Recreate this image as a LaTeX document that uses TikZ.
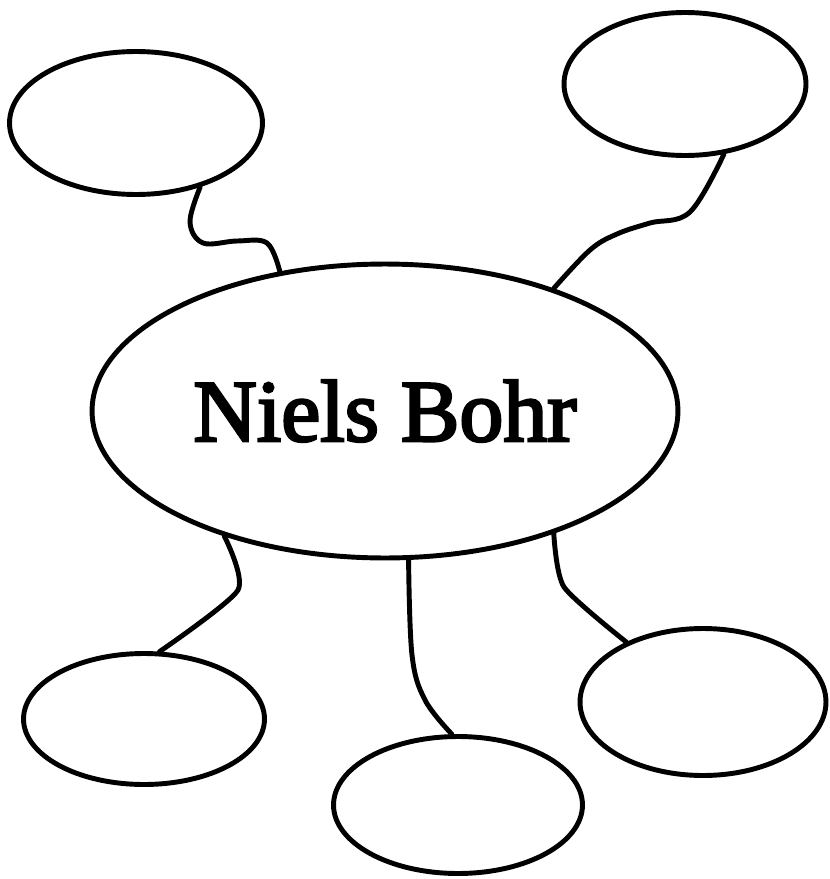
\documentclass[tikz,border=0pt]{standalone}
\usepackage{fontspec}
\setmainfont{Liberation Serif}
\newfontfamily\namefont[FakeBold=3]{Liberation Serif}
\usetikzlibrary{shapes.geometric}

\tikzset{
    bubble/.style={draw, ellipse, line width=2.8pt, inner sep=0pt},
    link/.style={line width=2.8pt, line cap=round}
}

\begin{document}
\begin{tikzpicture}[x=0.02cm, y=-0.02cm]
    \useasboundingbox (0,0) rectangle (830,879);

    % Centre
    \node[bubble, minimum width=11.72cm, minimum height=5.88cm] (bohr) at (385,411)
        {\namefont\fontsize{50}{52}\selectfont Niels Bohr};

    % Outer bubbles
    \node[bubble, minimum width=5.06cm, minimum height=2.86cm] (topleft) at (136,123) {};
    \node[bubble, minimum width=4.84cm, minimum height=2.86cm] (topright) at (685,84) {};
    \node[bubble, minimum width=4.82cm, minimum height=2.62cm] (botleft) at (144,719) {};
    \node[bubble, minimum width=4.98cm, minimum height=2.74cm] (botmid) at (458,805) {};
    \node[bubble, minimum width=4.92cm, minimum height=2.94cm] (botright) at (703,702) {};

    % Wavy links
    \draw[link] plot[smooth, tension=0.6] coordinates
        {(topleft.-45) (190,222) (203,243) (237,241) (267,243) (bohr.127)};
    \draw[link] plot[smooth, tension=0.6] coordinates
        {(topright.-61) (690,212) (650,223) (617,234) (590,250) (bohr.36)};
    \draw[link] plot[smooth, tension=0.4] coordinates
        {(bohr.-142) (238,590) (botleft.77)};
    \draw[link] plot[smooth, tension=0.6] coordinates
        {(bohr.-81) (412,655) (425,700) (botmid.95)};
    \draw[link] plot[smooth, tension=0.4] coordinates
        {(bohr.-36) (564,587) (botright.142)};

\end{tikzpicture}
\end{document}
